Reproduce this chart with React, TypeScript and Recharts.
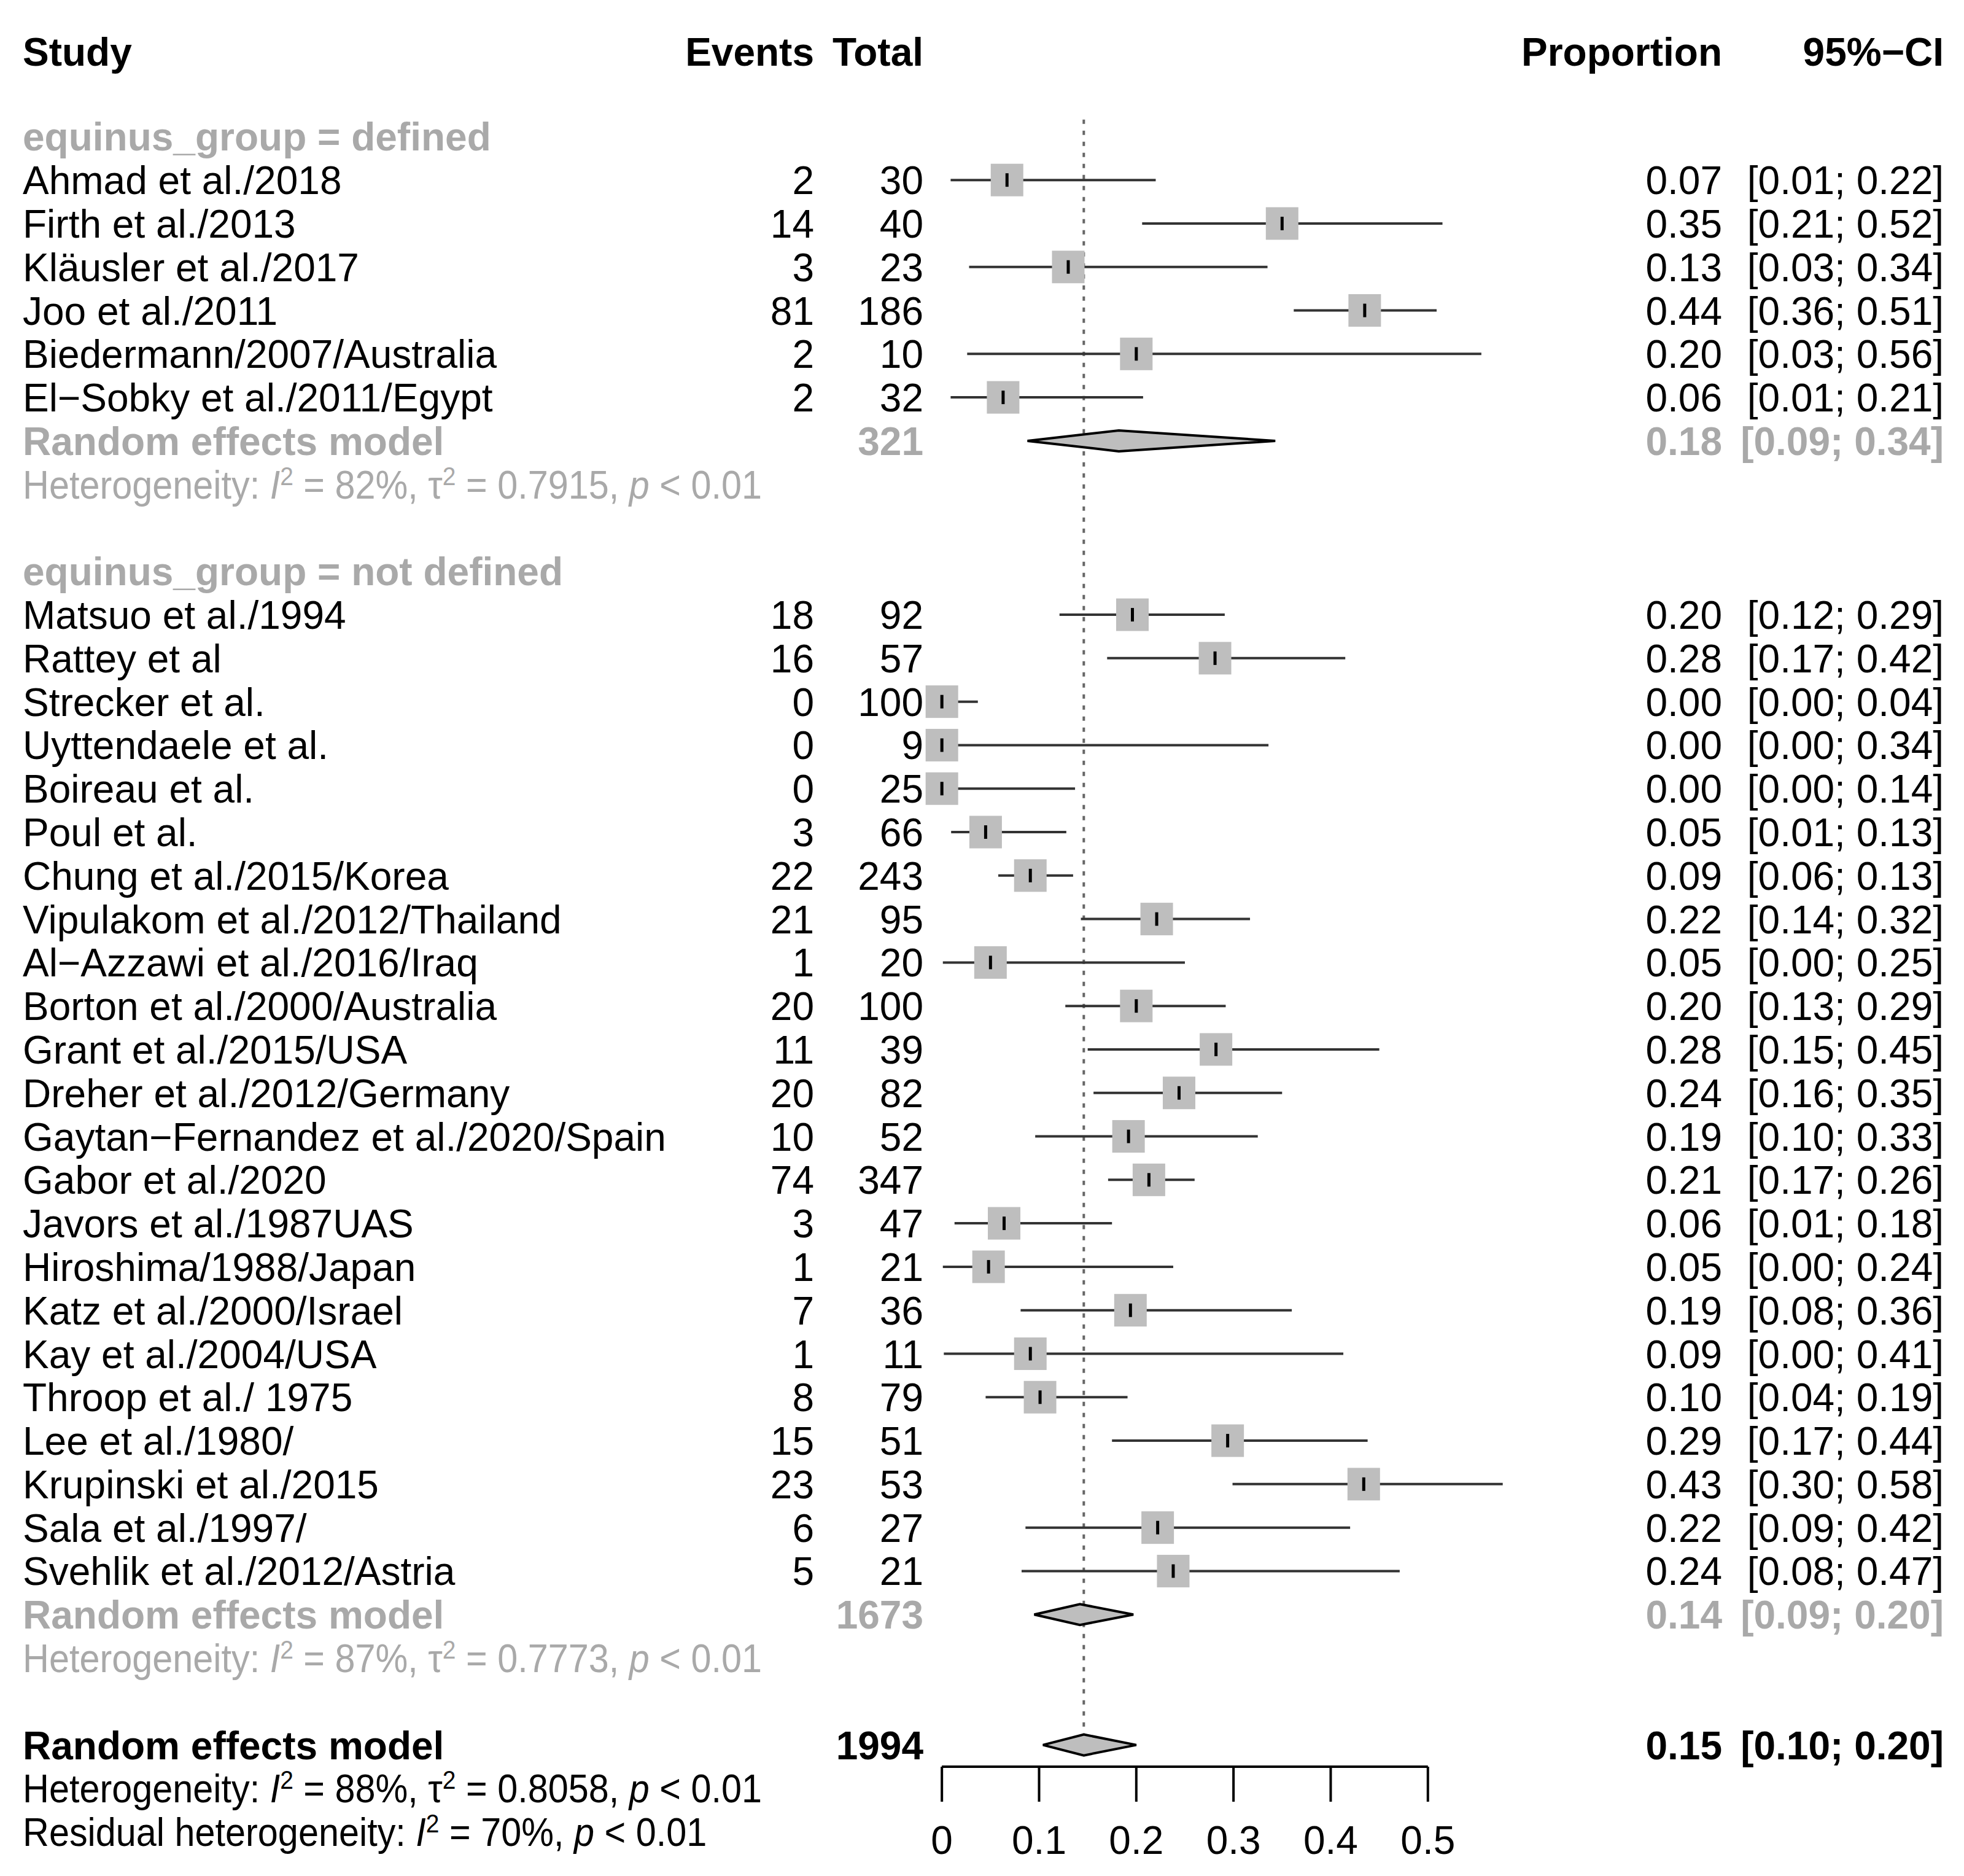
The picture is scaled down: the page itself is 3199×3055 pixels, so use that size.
import React from "react";
import { ScatterChart, Scatter, XAxis, YAxis, ErrorBar, ReferenceLine } from "recharts";

const W = 3199;
const H = 3055;
const FONT = "'Liberation Sans', Arial, Helvetica, sans-serif";
const FS = 64;
const GRAY = "#A9A9A9";
const SQ_FILL = "#BEBEBE";

// column anchors (px)
const COL_STUDY = 37;
const COL_EVENTS = 1326;
const COL_TOTAL = 1504;
const COL_PROP = 2805;
const COL_CI = 3166;
const HET_SQUEEZE = 0.928;

// ---- group 1: equinus_group = defined
const namesA = [
  "Ahmad et al./2018",
  "Firth et al./2013",
  "Kläusler et al./2017",
  "Joo et al./2011",
  "Biedermann/2007/Australia",
  "El\u2212Sobky et al./2011/Egypt",
];
const eventsA = [2, 14, 3, 81, 2, 2];
const totalsA = [30, 40, 23, 186, 10, 32];
const propA = [0.07, 0.35, 0.13, 0.44, 0.2, 0.06];
const lowA = [0.01, 0.21, 0.03, 0.36, 0.03, 0.01];
const highA = [0.22, 0.52, 0.34, 0.51, 0.56, 0.21];
// finer positions
const estA = [0.067, 0.35, 0.13, 0.435, 0.2, 0.063];
const ciLoA = [0.009, 0.206, 0.028, 0.362, 0.026, 0.009];
const ciHiA = [0.22, 0.515, 0.335, 0.509, 0.555, 0.207];

// ---- group 2: equinus_group = not defined
const namesB = [
  "Matsuo et al./1994",
  "Rattey et al",
  "Strecker et al.",
  "Uyttendaele et al.",
  "Boireau et al.",
  "Poul et al.",
  "Chung et al./2015/Korea",
  "Vipulakom et al./2012/Thailand",
  "Al\u2212Azzawi et al./2016/Iraq",
  "Borton et al./2000/Australia",
  "Grant et al./2015/USA",
  "Dreher et al./2012/Germany",
  "Gaytan\u2212Fernandez et al./2020/Spain",
  "Gabor et al./2020",
  "Javors et al./1987UAS",
  "Hiroshima/1988/Japan",
  "Katz et al./2000/Israel",
  "Kay et al./2004/USA",
  "Throop et al./ 1975",
  "Lee et al./1980/",
  "Krupinski et al./2015",
  "Sala et al./1997/",
  "Svehlik et al./2012/Astria",
];
const eventsB = [18, 16, 0, 0, 0, 3, 22, 21, 1, 20, 11, 20, 10, 74, 3, 1, 7, 1, 8, 15, 23, 6, 5];
const totalsB = [92, 57, 100, 9, 25, 66, 243, 95, 20, 100, 39, 82, 52, 347, 47, 21, 36, 11, 79, 51, 53, 27, 21];
const propB = [0.2, 0.28, 0, 0, 0, 0.05, 0.09, 0.22, 0.05, 0.2, 0.28, 0.24, 0.19, 0.21, 0.06, 0.05, 0.19, 0.09, 0.1, 0.29, 0.43, 0.22, 0.24];
const lowB = [0.12, 0.17, 0, 0, 0, 0.01, 0.06, 0.14, 0, 0.13, 0.15, 0.16, 0.1, 0.17, 0.01, 0, 0.08, 0, 0.04, 0.17, 0.3, 0.09, 0.08];
const highB = [0.29, 0.42, 0.04, 0.34, 0.14, 0.13, 0.13, 0.32, 0.25, 0.29, 0.45, 0.35, 0.33, 0.26, 0.18, 0.24, 0.36, 0.41, 0.19, 0.44, 0.58, 0.42, 0.47];
const estB = [0.196, 0.281, 0, 0, 0, 0.045, 0.091, 0.221, 0.05, 0.2, 0.282, 0.244, 0.192, 0.213, 0.064, 0.048, 0.194, 0.091, 0.101, 0.294, 0.434, 0.222, 0.238];
const ciLoB = [0.121, 0.17, 0, 0, 0, 0.0095, 0.058, 0.143, 0.001, 0.127, 0.15, 0.156, 0.096, 0.171, 0.013, 0.001, 0.081, 0.002, 0.045, 0.175, 0.299, 0.086, 0.082];
const ciHiB = [0.291, 0.415, 0.037, 0.336, 0.137, 0.128, 0.135, 0.317, 0.25, 0.292, 0.45, 0.35, 0.325, 0.26, 0.175, 0.238, 0.36, 0.413, 0.191, 0.438, 0.577, 0.42, 0.471];

// ---- pooled estimates: group 1, group 2, overall
const pooledTotals = [321, 1673, 1994];
const pooledProp = [0.18, 0.14, 0.15];
const pooledLow = [0.09, 0.09, 0.1];
const pooledHigh = [0.34, 0.2, 0.2];
const pooledEst = [0.182, 0.142, 0.146];
const pooledLo = [0.088, 0.095, 0.104];
const pooledHi = [0.343, 0.197, 0.2];

const hetI2 = ["82%", "87%", "88%"];
const hetTau2 = ["0.7915", "0.7773", "0.8058"];
const residualI2 = "70%";

const xTicks = [0, 0.1, 0.2, 0.3, 0.4, 0.5];

// ---- row layout
const HEADER_ROW = -1.95;
const Y_DOMAIN: [number, number] = [-3, 37.5];
const DIAMOND_HALF = 0.24;

type RowInfo = {
  kind: string;
  label?: string;
  events?: number;
  total?: number;
  prop?: number;
  lo?: number;
  hi?: number;
  i2?: string;
  tau2?: string;
};

const groupLabels = ["equinus_group = defined", "equinus_group = not defined"];
const rowMap = new Map<number, RowInfo>();
const studyPoints: { x: number; row: number; err: [number, number] }[] = [];
const pooledRows: number[] = [];

rowMap.set(HEADER_ROW, { kind: "header" });

function addGroup(start: number, g: number, names: string[], ev: number[], tot: number[], pr: number[], lo: number[], hi: number[], est: number[], cl: number[], ch: number[]) {
  rowMap.set(start, { kind: "group", label: groupLabels[g] });
  names.forEach((n, i) => {
    const row = start + 1 + i;
    rowMap.set(row, { kind: "study", label: n, events: ev[i], total: tot[i], prop: pr[i], lo: lo[i], hi: hi[i] });
    studyPoints.push({ x: est[i], row, err: [est[i] - cl[i], ch[i] - est[i]] });
  });
  const pr0 = start + 1 + names.length;
  rowMap.set(pr0, { kind: "pooled", label: "Random effects model", total: pooledTotals[g], prop: pooledProp[g], lo: pooledLow[g], hi: pooledHigh[g] });
  rowMap.set(pr0 + 1, { kind: "het", i2: hetI2[g], tau2: hetTau2[g] });
  pooledRows.push(pr0);
  return pr0 + 3;
}

let nextRow = addGroup(0, 0, namesA, eventsA, totalsA, propA, lowA, highA, estA, ciLoA, ciHiA);
nextRow = addGroup(nextRow, 1, namesB, eventsB, totalsB, propB, lowB, highB, estB, ciLoB, ciHiB);
const overallRow = nextRow;
pooledRows.push(overallRow);
rowMap.set(overallRow, { kind: "overall", label: "Random effects model", total: pooledTotals[2], prop: pooledProp[2], lo: pooledLow[2], hi: pooledHigh[2] });
rowMap.set(overallRow + 1, { kind: "hetAll", i2: hetI2[2], tau2: hetTau2[2] });
rowMap.set(overallRow + 2, { kind: "residual", i2: residualI2 });

const rowTicks = Array.from(rowMap.keys()).sort((a, b) => a - b);

const diamonds = pooledRows.map((row, i) => [
  { x: pooledLo[i], row },
  { x: pooledEst[i], row: row - DIAMOND_HALF },
  { x: pooledHi[i], row },
  { x: pooledEst[i], row: row + DIAMOND_HALF },
]);

const fmt = (v: number) => v.toFixed(2);

function Txt({ x, y, anchor = "start", bold = false, color = "#000", children }: any) {
  return (
    <text x={x} y={y} dy="0.36em" textAnchor={anchor} fontFamily={FONT} fontSize={FS}
      fontWeight={bold ? 700 : 400} fill={color} style={{ whiteSpace: "pre" }}>
      {children}
    </text>
  );
}

// heterogeneity lines are set slightly condensed, as in the original
function HetLine({ y, color, lead, i2, tau2 }: any) {
  return (
    <text x={0} y={0} dy="0.36em" transform={`translate(${COL_STUDY} ${y}) scale(${HET_SQUEEZE} 1)`}
      fontFamily={FONT} fontSize={FS} fill={color} style={{ whiteSpace: "pre" }}>
      <tspan>{lead}</tspan>
      <tspan fontStyle="italic">I</tspan>
      <tspan dy={-22} fontSize={42}>2</tspan>
      <tspan dy={22}>{` = ${i2}, `}</tspan>
      {tau2 ? <tspan>τ</tspan> : null}
      {tau2 ? <tspan dy={-22} fontSize={42}>2</tspan> : null}
      {tau2 ? <tspan dy={22}>{` = ${tau2}, `}</tspan> : null}
      <tspan fontStyle="italic">p</tspan>
      <tspan>{" < 0.01"}</tspan>
    </text>
  );
}

function LeftTick(props: any) {
  const { y, payload } = props;
  const info = rowMap.get(payload.value);
  if (!info) return null;
  switch (info.kind) {
    case "header":
      return (
        <g>
          <Txt x={COL_STUDY} y={y} bold>Study</Txt>
          <Txt x={COL_EVENTS} y={y} anchor="end" bold>Events</Txt>
          <Txt x={COL_TOTAL} y={y} anchor="end" bold>Total</Txt>
        </g>
      );
    case "group":
      return <Txt x={COL_STUDY} y={y} bold color={GRAY}>{info.label}</Txt>;
    case "study":
      return (
        <g>
          <Txt x={COL_STUDY} y={y}>{info.label}</Txt>
          <Txt x={COL_EVENTS} y={y} anchor="end">{info.events}</Txt>
          <Txt x={COL_TOTAL} y={y} anchor="end">{info.total}</Txt>
        </g>
      );
    case "pooled":
    case "overall": {
      const c = info.kind === "pooled" ? GRAY : "#000";
      return (
        <g>
          <Txt x={COL_STUDY} y={y} bold color={c}>{info.label}</Txt>
          <Txt x={COL_TOTAL} y={y} anchor="end" bold color={c}>{info.total}</Txt>
        </g>
      );
    }
    case "het":
      return <HetLine y={y} color={GRAY} lead="Heterogeneity: " i2={info.i2} tau2={info.tau2} />;
    case "hetAll":
      return <HetLine y={y} color="#000" lead="Heterogeneity: " i2={info.i2} tau2={info.tau2} />;
    case "residual":
      return <HetLine y={y} color="#000" lead="Residual heterogeneity: " i2={info.i2} />;
    default:
      return null;
  }
}

function RightTick(props: any) {
  const { y, payload } = props;
  const info = rowMap.get(payload.value);
  if (!info) return null;
  if (info.kind === "header") {
    return (
      <g>
        <Txt x={COL_PROP} y={y} anchor="end" bold>Proportion</Txt>
        <Txt x={COL_CI} y={y} anchor="end" bold>{"95%\u2212CI"}</Txt>
      </g>
    );
  }
  if (info.kind === "study" || info.kind === "pooled" || info.kind === "overall") {
    const bold = info.kind !== "study";
    const c = info.kind === "pooled" ? GRAY : "#000";
    return (
      <g>
        <Txt x={COL_PROP} y={y} anchor="end" bold={bold} color={c}>{fmt(info.prop!)}</Txt>
        <Txt x={COL_CI} y={y} anchor="end" bold={bold} color={c}>{`[${fmt(info.lo!)}; ${fmt(info.hi!)}]`}</Txt>
      </g>
    );
  }
  return null;
}

const SQ = 53;
function StudySquare({ cx, cy }: any) {
  return <rect x={cx - SQ / 2} y={cy - SQ / 2} width={SQ} height={SQ} fill={SQ_FILL} />;
}
function EstimateMark({ cx, cy }: any) {
  return <line x1={cx} x2={cx} y1={cy - 11} y2={cy + 11} stroke="#000" strokeWidth={5} />;
}
function NoDot() {
  return <g />;
}
function DiamondShape(props: any) {
  const pts = (props.points || []).map((p: any) => `${p.x},${p.y}`).join(" ");
  return <polygon points={pts} fill={SQ_FILL} stroke="#000" strokeWidth={4} strokeLinejoin="miter" />;
}

export default function App() {
  return (
    <div style={{ position: "absolute", left: 0, top: 0, width: W, height: H, background: "#fff" }}>
      <ScatterChart width={W} height={H} margin={{ top: 10, right: 0, bottom: 0, left: 0 }}>
        <XAxis
          type="number"
          dataKey="x"
          domain={[-0.02, 0.6]}
          allowDataOverflow
          ticks={xTicks}
          interval={0}
          height={178}
          axisLine={false}
          tickLine={{ stroke: "#000", strokeWidth: 4 }}
          tickSize={57}
          tickMargin={40}
          tick={{ fontSize: FS, fill: "#000", fontFamily: FONT }}
        />
        <YAxis
          yAxisId={0}
          type="number"
          dataKey="row"
          domain={Y_DOMAIN}
          allowDataOverflow
          reversed
          ticks={rowTicks}
          interval={0}
          width={1502.5}
          axisLine={false}
          tickLine={false}
          tick={(p: any) => <LeftTick {...p} />}
        />
        <YAxis
          yAxisId="right"
          orientation="right"
          type="number"
          dataKey="row"
          domain={Y_DOMAIN}
          allowDataOverflow
          reversed
          ticks={rowTicks}
          interval={0}
          width={714.9}
          axisLine={false}
          tickLine={false}
          tick={(p: any) => <RightTick {...p} />}
        />
        <ReferenceLine
          segment={[{ x: 0.146, y: -0.39 }, { x: 0.146, y: 36.76 }]}
          stroke="#666"
          strokeWidth={4}
          strokeDasharray="7 11"
          ifOverflow="visible"
        />
        <ReferenceLine
          segment={[{ x: 0, y: 37.5 }, { x: 0.5, y: 37.5 }]}
          stroke="#000"
          strokeWidth={4}
          ifOverflow="visible"
        />
        <Scatter data={studyPoints} shape={StudySquare} isAnimationActive={false} />
        <Scatter data={studyPoints} shape={EstimateMark} isAnimationActive={false}>
          <ErrorBar dataKey="err" direction="x" width={0} stroke="#333" strokeWidth={4} isAnimationActive={false} />
        </Scatter>
        {diamonds.map((d, i) => (
          <Scatter key={i} data={d} shape={NoDot} line={DiamondShape} isAnimationActive={false} />
        ))}
      </ScatterChart>
    </div>
  );
}
